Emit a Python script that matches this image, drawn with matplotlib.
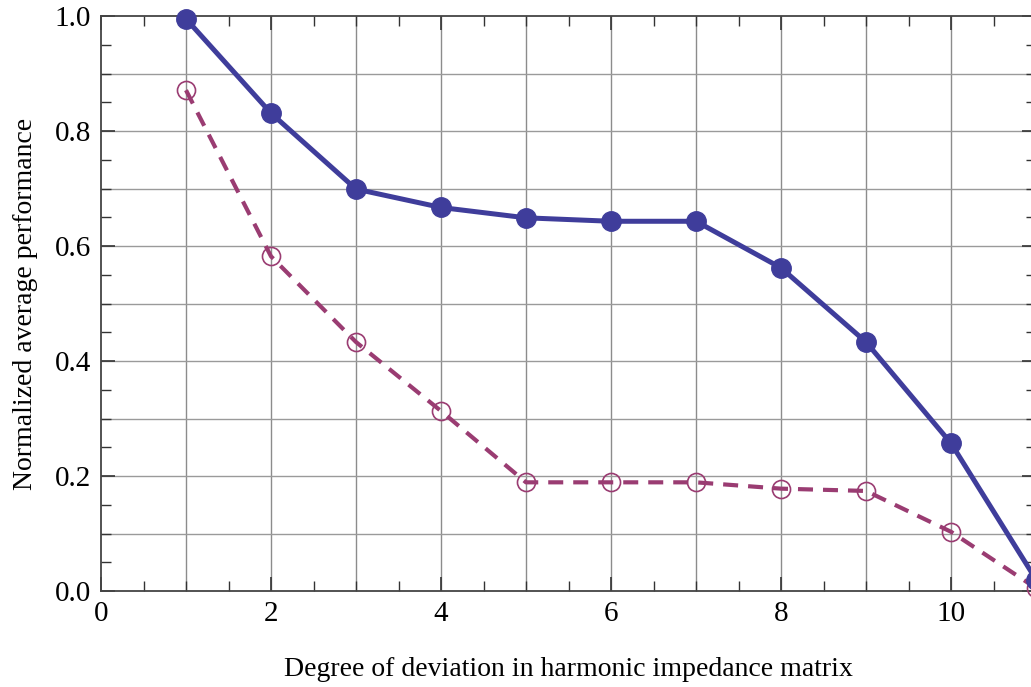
"""Normalized average performance versus deviation degree."""

import matplotlib

matplotlib.use("Agg")
import matplotlib.pyplot as plt
from matplotlib.ticker import MultipleLocator

plt.rcParams["font.family"] = ["Liberation Serif", "DejaVu Serif"]

DEGREES = [1, 2, 3, 4, 5, 6, 7, 8, 9, 10, 11]
PERF_SOLID = [0.995, 0.831, 0.699, 0.667, 0.649, 0.643, 0.643, 0.562, 0.433, 0.257, 0.02]
PERF_DASHED = [0.871, 0.582, 0.433, 0.313, 0.189, 0.189, 0.189, 0.178, 0.174, 0.103, 0.005]

BLUE = "#3f3d9b"
PLUM = "#9a3c72"

fig = plt.figure(figsize=(10.31, 6.87), dpi=100)
ax = fig.add_axes([101 / 1031, 96 / 687, 935 / 1031, 575 / 687])

ax.plot(DEGREES, PERF_SOLID, color=BLUE, lw=3.6, marker="o", ms=14,
        clip_on=False, zorder=4)
ax.plot(DEGREES, PERF_DASHED, color=PLUM, lw=3.0, ls=(0, (3.6, 2.4)),
        marker="o", ms=13, mfc="none", mec=PLUM, mew=1.2,
        clip_on=False, zorder=3)

ax.set_xlim(0, 11)
ax.set_ylim(0, 1.0)
ax.xaxis.set_major_locator(MultipleLocator(2))
ax.xaxis.set_minor_locator(MultipleLocator(0.5))
ax.yaxis.set_major_locator(MultipleLocator(0.2))
ax.yaxis.set_minor_locator(MultipleLocator(0.05))
ax.yaxis.set_major_formatter(plt.FuncFormatter(lambda v, _: f"{v:.1f}"))

# grid every integer on x and every 0.1 on y, drawn independently of the ticks
for gx in range(1, 11):
    ax.axvline(gx, color="#8c8c8c", lw=1.0, zorder=1)
for i in range(1, 10):
    ax.axhline(i / 10, color="#9a9a9a", lw=1.0, zorder=1)

ax.tick_params(which="both", direction="in", top=True, right=True,
               colors="#333333", labelcolor="black", labelsize=21)
ax.tick_params(which="major", length=10, width=1.2, pad=7)
ax.tick_params(which="minor", length=7, width=1.0)
for spine in ax.spines.values():
    spine.set_color("#444444")
    spine.set_linewidth(1.3)

ax.set_xlabel("Degree of deviation in harmonic impedance matrix",
              fontsize=20, labelpad=22)
ax.set_ylabel("Normalized average performance", fontsize=20, labelpad=12)

fig.savefig("out.png", dpi=100)
